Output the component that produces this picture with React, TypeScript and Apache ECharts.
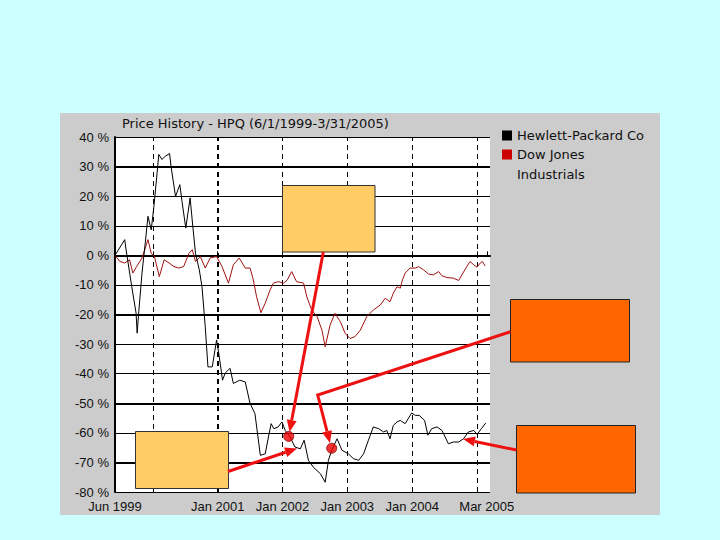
import React, { useEffect, useRef } from "react";
import * as echarts from "echarts";

// [months since 1 Jun 1999, % change]
const hpData: [number, number][] = [
  [0, 0], [1.8, 5.3], [2.0, 2.5], [3.1, -10.6], [3.9, -19.5], [4.1, -26.3], [4.4, -19.1],
  [5.0, -5.9], [5.6, 4.2], [6.1, 13.2], [6.7, 8.6], [7.2, 16.5], [7.8, 28.0], [8.1, 34.1],
  [8.7, 32.4], [9.3, 33.5], [10.1, 34.4], [10.4, 29.7], [11.2, 19.9], [12.0, 23.9],
  [12.4, 18.2], [13.1, 9.2], [13.9, 19.4], [14.4, 9.8], [14.9, 0.7], [15.6, -4.9],
  [16.1, -10.6], [16.7, -24.1], [17.2, -37.7], [18.0, -37.7], [18.8, -28.6], [19.3, -34.3],
  [19.9, -42.2], [20.4, -39.8], [21.3, -38.2], [21.9, -43.3], [23.1, -42.2], [24.1, -42.8],
  [25.0, -50.1], [25.9, -53.5], [26.9, -67.6], [27.8, -67.1], [28.4, -61.4], [28.9, -56.9],
  [29.4, -58.6], [30.2, -58.0], [30.9, -56.3], [31.5, -59.2], [32.4, -61.4], [33.3, -64.8],
  [34.3, -65.4], [35.0, -62.5], [35.8, -69.3], [36.7, -71.6], [38.0, -73.8], [38.9, -76.7],
  [39.5, -69.3], [40.1, -65.9], [41.1, -62.0], [42.0, -65.9], [43.2, -67.1], [44.1, -68.7],
  [45.1, -69.3], [46.0, -67.1], [46.9, -62.5], [47.8, -58.0], [48.8, -58.6], [49.7, -59.7],
  [50.3, -59.2], [50.9, -62.0], [51.5, -57.5], [52.2, -56.3], [52.8, -55.8], [53.7, -56.9],
  [54.9, -53.3], [55.6, -54.1], [56.3, -54.1], [57.3, -55.8], [57.9, -60.8], [58.6, -58.6],
  [59.6, -58.0], [60.5, -59.2], [61.1, -61.4], [61.7, -63.7], [62.6, -63.1], [63.6, -63.1],
  [64.5, -62.0], [65.4, -59.7], [66.4, -59.2], [67.0, -60.5], [67.8, -58.6], [68.6, -56.7],
];

const djData: [number, number][] = [
  [0, 0], [0.9, -2.1], [1.8, -2.6], [2.7, -1.5], [3.3, -6.0], [4.0, -3.8], [5.0, -0.9],
  [6.1, 5.3], [6.7, 0.7], [7.3, -0.4], [8.2, -7.2], [9.1, -1.5], [10.0, -2.6], [10.9, -3.8],
  [11.8, -4.3], [12.7, -3.8], [13.7, 0.7], [14.3, 1.9], [14.9, -2.1], [15.8, -0.4],
  [16.7, -4.3], [17.6, -0.9], [18.8, -0.4], [19.8, -3.8], [21.0, -9.4], [21.9, -3.2],
  [23.0, -0.9], [24.1, -4.3], [25.0, -4.3], [25.6, -8.3], [26.2, -14.0], [27.0, -19.4],
  [27.8, -16.2], [28.7, -11.7], [29.3, -9.4], [30.2, -8.9], [31.2, -9.4], [31.9, -8.3],
  [32.7, -5.5], [33.6, -8.9], [34.9, -9.4], [35.5, -14.0], [36.4, -18.5], [37.4, -20.7],
  [38.3, -25.3], [38.9, -30.9], [39.8, -23.6], [40.7, -19.6], [41.7, -22.4], [42.6, -26.4],
  [43.5, -28.1], [44.4, -27.5], [45.4, -25.3], [46.6, -20.7], [47.8, -18.5], [49.1, -16.8],
  [50.0, -14.5], [50.9, -15.7], [51.5, -12.8], [52.2, -10.6], [52.8, -11.1], [53.2, -8.3],
  [53.7, -6.0], [54.6, -4.3], [55.6, -4.3], [56.2, -3.8], [57.1, -4.9], [58.0, -6.3],
  [58.9, -6.6], [59.9, -5.5], [60.5, -6.9], [61.4, -7.5], [62.6, -7.7], [63.6, -8.5],
  [64.2, -6.6], [65.1, -3.8], [65.7, -2.1], [66.4, -3.2], [67.0, -4.0], [67.6, -2.6],
  [68.0, -2.1], [68.5, -3.6],
];

const markerDots: [number, number][] = [[32.15, -61.2], [40.1, -65.2]];

const xLabelValues = [0, 19, 31, 43, 55, 68.8];
const xLabelTexts = ["Jun 1999", "Jan 2001", "Jan 2002", "Jan 2003", "Jan 2004", "Mar 2005"];
const xTickValues = [0, 7, 19, 31, 43, 55, 67, 68.8];
const yearLines = [7, 19, 31, 43, 55, 67];
const thickYearLine = 19;
const thickGridValues = [30, 0, -20, -50, -70];

const seriesNames = ["Hewlett-Packard Co", "Dow Jones"];

const FONT = "'Liberation Sans', Arial, sans-serif";
const WIDE_FONT = "'DejaVu Sans', Verdana, sans-serif";
const RED = "#ee1111";

function arrowHead(x1: number, y1: number, x2: number, y2: number, len = 12, half = 5) {
  const dx = x2 - x1;
  const dy = y2 - y1;
  const d = Math.sqrt(dx * dx + dy * dy);
  const ux = dx / d;
  const uy = dy / d;
  const bx = x2 - ux * len;
  const by = y2 - uy * len;
  return {
    base: [bx, by],
    points: [
      [x2, y2],
      [bx - uy * half, by + ux * half],
      [bx + uy * half, by - ux * half],
    ],
  };
}

function arrow(x1: number, y1: number, x2: number, y2: number): any[] {
  const h = arrowHead(x1, y1, x2, y2);
  return [
    {
      type: "line",
      z: 100,
      shape: { x1, y1, x2: h.base[0], y2: h.base[1] },
      style: { stroke: RED, lineWidth: 3 },
    },
    { type: "polygon", z: 100, shape: { points: h.points }, style: { fill: RED } },
  ];
}

export default function App() {
  const ref = useRef<HTMLDivElement>(null);

  useEffect(() => {
    if (!ref.current) return;
    const chart = echarts.init(ref.current, undefined, { renderer: "svg" });

    const h3 = arrowHead(317.7, 395, 330, 443);

    const option: any = {
      animation: false,
      backgroundColor: "#ccffff",
      textStyle: { fontFamily: FONT },
      title: {
        text: "Price History - HPQ (6/1/1999-3/31/2005)",
        left: 122,
        top: 117,
        padding: 0,
        textStyle: { fontSize: 13, fontWeight: "normal", color: "#111", fontFamily: WIDE_FONT },
      },
      legend: {
        data: seriesNames,
        orient: "vertical",
        left: 502,
        top: 128,
        padding: 0,
        itemWidth: 10,
        itemHeight: 10,
        itemGap: 4,
        icon: "rect",
        textStyle: { fontSize: 13, color: "#111", fontFamily: WIDE_FONT, lineHeight: 15 },
        selectedMode: false,
      },
      grid: {
        left: 115,
        top: 137,
        width: 375,
        height: 355,
        show: true,
        backgroundColor: "#ffffff",
        borderWidth: 0,
      },
      xAxis: {
        type: "value",
        min: 0,
        max: 69.4,
        axisLine: { show: true, lineStyle: { color: "#000", width: 2 } },
        axisTick: {
          show: true,
          inside: true,
          length: 4,
          customValues: xTickValues,
          lineStyle: { color: "#000", width: 1 },
        },
        axisLabel: {
          show: true,
          customValues: xLabelValues,
          margin: 8,
          fontSize: 13,
          color: "#111",
          fontFamily: FONT,
          formatter: (v: number) => {
            const i = xLabelValues.findIndex((x) => Math.abs(x - v) < 1e-6);
            return i >= 0 ? xLabelTexts[i] : "";
          },
        },
        splitLine: { show: false },
      },
      yAxis: {
        type: "value",
        min: -80,
        max: 40,
        interval: 10,
        axisLine: { show: true, lineStyle: { color: "#000", width: 2 } },
        axisTick: { show: false },
        axisLabel: {
          formatter: "{value} %",
          fontSize: 13,
          color: "#111",
          margin: 6,
          fontFamily: FONT,
        },
        splitLine: { show: true, lineStyle: { color: "#000", width: 1 } },
      },
      series: [
        {
          name: seriesNames[0],
          type: "line",
          data: hpData,
          showSymbol: false,
          symbol: "none",
          itemStyle: { color: "#000000" },
          lineStyle: { color: "#000000", width: 1 },
          z: 3,
          markLine: {
            silent: true,
            symbol: "none",
            z: 1,
            label: { show: false },
            data: [
              ...yearLines.map((m) => ({
                xAxis: m,
                lineStyle: { color: "#000", type: [5, 4], width: m === thickYearLine ? 2 : 1 },
              })),
              ...thickGridValues.map((v) => ({
                yAxis: v,
                lineStyle: { color: "#000", type: "solid", width: 2 },
              })),
            ],
          },
        },
        {
          name: seriesNames[1],
          type: "line",
          data: djData,
          showSymbol: false,
          symbol: "none",
          itemStyle: { color: "#cc0000" },
          lineStyle: { color: "#a01010", width: 1 },
          z: 2,
        },
        {
          name: "markers",
          type: "scatter",
          data: markerDots,
          symbol: "circle",
          symbolSize: 10,
          itemStyle: { color: "#ee0000", borderColor: "#880000", borderWidth: 1 },
          z: 20,
          silent: true,
        },
      ],
      graphic: [
        {
          type: "rect",
          z: -1,
          shape: { x: 60, y: 113, width: 600, height: 402 },
          style: { fill: "#cccccc" },
        },
        {
          type: "text",
          x: 517,
          y: 174,
          style: {
            text: "Industrials",
            fontSize: 13,
            fill: "#111",
            fontFamily: WIDE_FONT,
            verticalAlign: "middle",
          },
        },
        // annotation boxes
        {
          type: "rect",
          z: 90,
          shape: { x: 282.5, y: 185.5, width: 92.5, height: 66.5 },
          style: { fill: "#ffcc66", stroke: "#333", lineWidth: 1 },
        },
        {
          type: "rect",
          z: 90,
          shape: { x: 135.5, y: 431.5, width: 93, height: 57 },
          style: { fill: "#ffcc66", stroke: "#333", lineWidth: 1 },
        },
        {
          type: "rect",
          z: 90,
          shape: { x: 510.5, y: 299.5, width: 119, height: 62.5 },
          style: { fill: "#ff6600", stroke: "#222", lineWidth: 1 },
        },
        {
          type: "rect",
          z: 90,
          shape: { x: 516.5, y: 425.5, width: 119, height: 67.5 },
          style: { fill: "#ff6600", stroke: "#222", lineWidth: 1 },
        },
        // arrows
        ...arrow(323.3, 252, 289.5, 432),
        ...arrow(228, 471.5, 297, 448.5),
        {
          type: "polyline",
          z: 100,
          shape: { points: [[510.5, 331.7], [317.7, 395], h3.base] },
          style: { stroke: RED, lineWidth: 3, fill: null },
        },
        { type: "polygon", z: 100, shape: { points: h3.points }, style: { fill: RED } },
        ...arrow(516.5, 450, 463, 439),
      ],
    };

    chart.setOption(option);
    return () => chart.dispose();
  }, []);

  return (
    <div
      ref={ref}
      style={{ position: "fixed", left: 0, top: 0, width: 720, height: 540 }}
    />
  );
}
